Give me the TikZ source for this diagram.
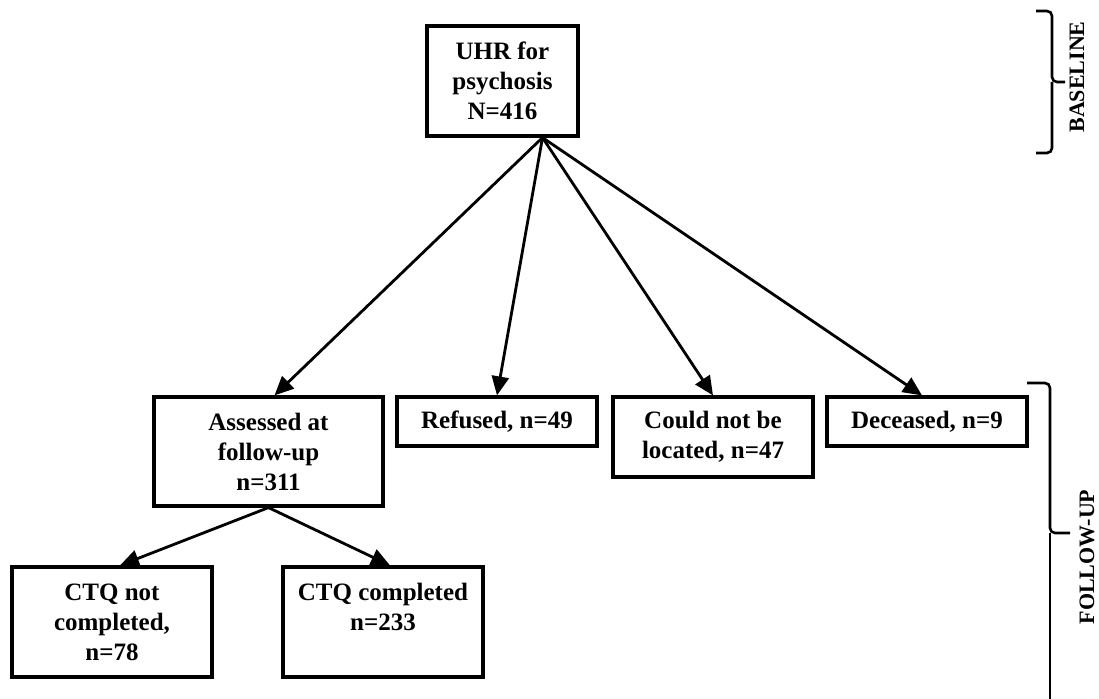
\documentclass[tikz,border=0pt]{standalone}
\usepackage{fontspec}
\setmainfont{Liberation Serif}
\usetikzlibrary{arrows.meta,positioning,calc}
\tikzset{
  fbox/.style={draw=black, line width=3.2pt, align=center, inner sep=0pt,
               font=\fontsize{25}{30}\selectfont\bfseries,
               minimum width=200pt},
  farrow/.style={-{Triangle[length=19pt,width=17pt]}, draw=black,
                 line width=2.8pt},
  fbrace/.style={draw=black, line width=2.6pt, rounded corners=5pt},
  fphase/.style={font=\fontsize{22}{24}\selectfont\bfseries, rotate=90,
                 inner sep=0pt},
}
\begin{document}
\begin{tikzpicture}[x=1pt, y=-1pt]
  \useasboundingbox (0,0) rectangle (1099,698);

  % --- baseline ---
  \node[fbox, minimum width=151pt, minimum height=110pt] (uhr) at (502.5,81)
    {UHR for\\psychosis\\N=416};

  % --- follow-up row ---
  \node[fbox, minimum width=229pt, minimum height=109pt] (assessed) at (268.5,451.5)
    {Assessed at\\follow-up\\n=311};
  \node[fbox, minimum height=49pt] (refused)  at (497,421.5) {Refused, n=49};
  \node[fbox, minimum height=80pt] (located)  at (713,437)   {Could not be\\located, n=47};
  \node[fbox, minimum height=49pt] (deceased) at (927,421.5) {Deceased, n=9};

  % --- CTQ ---
  \node[fbox, minimum height=110pt] (ctqnot)  at (112,622) {CTQ not\\completed,\\n=78};
  \node[fbox, minimum height=110pt] (ctqdone) at (383,622) {CTQ completed\\n=233\\\mbox{}};

  \coordinate (split) at ($(uhr.south)+(40,0)$);
  \draw[farrow] (split) -- ($(assessed.north)+(6,0)$);
  \draw[farrow] (split) -- (refused.north);
  \draw[farrow] (split) -- (located.north);
  \draw[farrow] (split) -- ($(deceased.north)+(-5,0)$);
  \draw[farrow] (assessed.south) -- ($(ctqnot.north)+(8,0)$);
  \draw[farrow] (assessed.south) -- ($(ctqdone.north)+(7,0)$);

  % --- phase braces ---
  \coordinate (basetip) at (1065,82);
  \draw[fbrace] (1036,11) -- (1052,11) -- (1052,82) -- (basetip);
  \draw[fbrace] (1036,153) -- (1052,153) -- (1052,82);
  \node[fphase] (baseline) at (1077,77) {BASELINE};

  \coordinate (fuptip) at (1070,533);
  \draw[fbrace] (1027,383) -- (1050,383) -- (1050,533) -- (fuptip);
  \draw[fbrace] (1050,710) -- (1050,533);
  \node[fphase] (followup) at (1087,557) {FOLLOW-UP};
\end{tikzpicture}
\end{document}
